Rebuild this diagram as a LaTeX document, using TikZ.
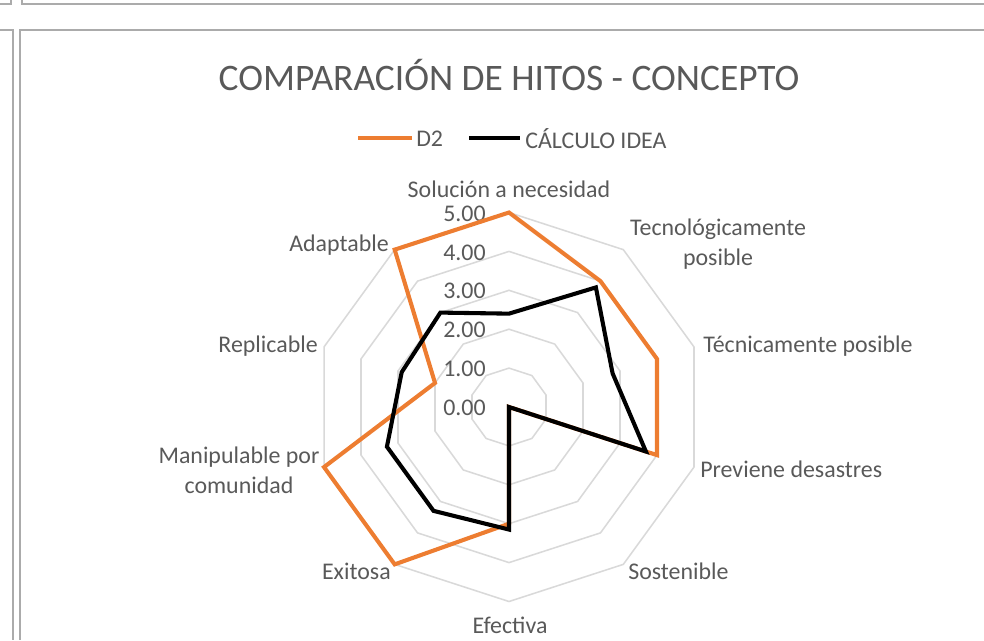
\documentclass[tikz,border=0pt]{standalone}
\usepackage{fontspec}
\setmainfont{Carlito}
\usetikzlibrary{positioning,calc}
\definecolor{dtwo}{HTML}{ED7D31}
\definecolor{txtgray}{HTML}{595959}
\definecolor{gridgray}{HTML}{D9D9D9}
\definecolor{framegray}{HTML}{ABABAB}

\begin{document}
\begin{tikzpicture}[x=0.025cm, y=-0.025cm, font=\fontsize{17}{21.3}\selectfont,
  gridline/.style={draw=gridgray, line width=1.1pt},
  serie/.style={line width=2.9pt, line join=miter},
  keyline/.style={line width=2.3pt},
  lbl/.style={inner sep=0pt, text=txtgray},
  frameline/.style={draw=framegray, line width=1.1pt}]
\useasboundingbox (0,0) rectangle (984,640);
% chart frames
\draw[frameline] (0,4) -- (11,4) -- (11,0);
\draw[frameline] (22,0) -- (22,4) -- (984,4);
\draw[frameline] (0,30) -- (13,30) -- (13,640);
\draw[frameline] (20,640) -- (20,30) -- (984,30);

% title and legend
\node[lbl, font=\fontsize{26.6}{30}\selectfont] (title) at (509,75) {COMPARACIÓN DE HITOS - CONCEPTO};
\coordinate (ka) at (358,138); \coordinate (kb) at (412,138);
\coordinate (kc) at (469,138); \coordinate (kd) at (520,138);
\draw[keyline, dtwo] (ka) -- (kb);
\node[lbl, anchor=west] (kdtwo) at (416,139) {D2};
\draw[keyline, black] (kc) -- (kd);
\node[lbl, anchor=west] (kidea) at (525,139) {CÁLCULO IDEA};

\begin{scope}[shift={(509,407)}]
% grid rings
\foreach \r in {1,...,5}
  \draw[gridline] (-90:\r*38.9) \foreach \k in {1,...,9} { -- (-90+36*\k:\r*38.9) } -- cycle;
% axis values
\foreach \v in {0,...,5}
  \node[lbl, anchor=east] (val\v) at (-23,1-\v*38.9) {\v.00};
% series
\foreach \v [count=\k from 0] in {5,4,4,4,0,3,5,5,2,5}
  \coordinate (d\k) at (-90+36*\k:\v*38.9);
\foreach \v [count=\k from 0] in {2.4,3.8,2.8,3.7,0,3.15,3.3,3.3,2.9,3.0}
  \coordinate (c\k) at (-90+36*\k:\v*38.9);
\draw[serie, dtwo] (d0) -- (d1) -- (d2) -- (d3) -- (d4) -- (d5) -- (d6) -- (d7) -- (d8) -- (d9) -- cycle;
\draw[serie, black] (c0) -- (c1) -- (c2) -- (c3) -- (c4) -- (c5) -- (c6) -- (c7) -- (c8) -- (c9) -- cycle;
\end{scope}

% category labels
\node[lbl] (sol) at (509,189) {Solución a necesidad};
\node[lbl, align=center] (tecno) at (718,244) {Tecnológicamente\\posible};
\node[lbl, anchor=west] (tecni) at (703,346) {Técnicamente posible};
\node[lbl, anchor=west] (prev) at (700,469) {Previene desastres};
\node[lbl, anchor=west] (sost) at (628,571) {Sostenible};
\node[lbl] (efec) at (510,625) {Efectiva};
\node[lbl, anchor=east] (exit) at (391,571) {Exitosa};
\node[lbl, align=center] (manip) at (239,470) {Manipulable por\\comunidad};
\node[lbl, anchor=east] (repl) at (318,346) {Replicable};
\node[lbl, anchor=east] (adapt) at (389,245) {Adaptable};
\end{tikzpicture}
\end{document}
